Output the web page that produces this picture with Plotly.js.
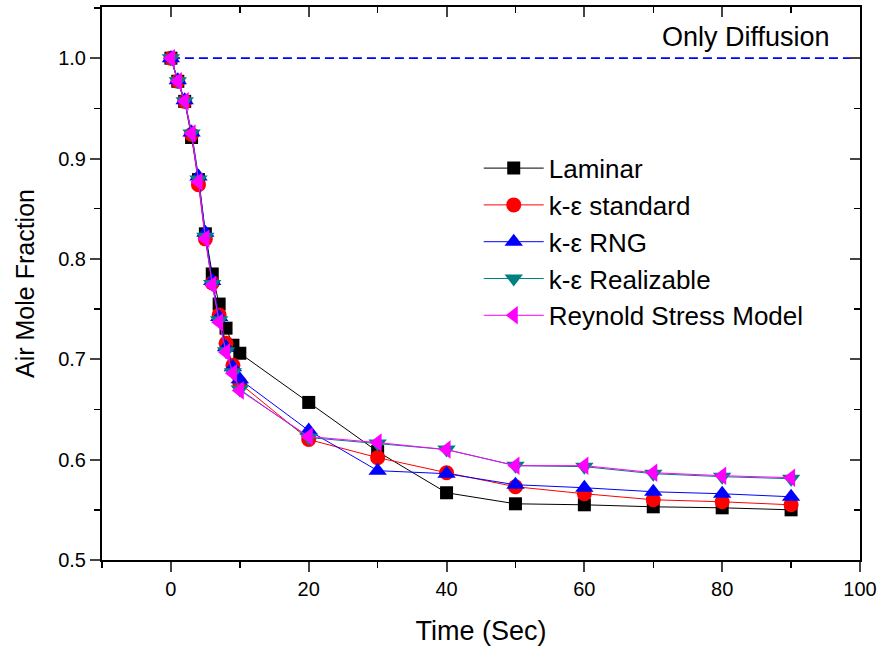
<!DOCTYPE html>
<html>
<head>
<meta charset="utf-8">
<script src="https://cdn.plot.ly/plotly-3.0.1.min.js"></script>
<style>html,body{margin:0;padding:0;background:#fff;}#chart{width:881px;height:651px;}</style>
</head>
<body>
<div id="chart"></div>
<script>
const time = [0,1,2,3,4,5,6,7,8,9,10,20,30,40,50,60,70,80,90];
const laminar = [1.0,0.977,0.957,0.921,0.879,0.825,0.785,0.755,0.731,0.714,0.706,0.657,0.608,0.567,0.556,0.555,0.553,0.552,0.550];
const kEpsStandard = [1.0,0.977,0.957,0.924,0.874,0.820,0.776,0.744,0.716,0.694,0.676,0.620,0.602,0.587,0.573,0.566,0.560,0.558,0.555];
const kEpsRNG = [1.0,0.978,0.958,0.926,0.882,0.826,0.778,0.742,0.712,0.692,0.680,0.629,0.589,0.586,0.575,0.572,0.568,0.566,0.563];
const kEpsRealizable = [1.0,0.977,0.957,0.925,0.879,0.822,0.775,0.739,0.708,0.687,0.670,0.622,0.616,0.610,0.594,0.593,0.586,0.583,0.581];
const reynoldStress = [1.0,0.977,0.957,0.925,0.877,0.820,0.774,0.737,0.707,0.686,0.669,0.623,0.617,0.610,0.594,0.594,0.587,0.584,0.582];
const diffusionX = [0, 100];
const diffusionY = [1.0, 1.0];
const seriesNames = ['Laminar','k-\u03b5 standard','k-\u03b5 RNG','k-\u03b5 Realizable','Reynold Stress Model'];

const FONT = 'Liberation Sans, Arial, sans-serif';
function tr(y, name, color, symbol, size, g) {
  return {x: time, y: y, name: name, type: 'scatter', mode: 'lines+markers',
    legendgroup: g,
    line: {color: color, width: 1},
    marker: {color: color, symbol: symbol, size: size, line: {width: 0}}};
}
const data = [
  {x: diffusionX, y: diffusionY, type: 'scatter', mode: 'lines', showlegend: false,
   line: {color: '#0000ff', width: 1.8, dash: '9px,5px'}, hoverinfo: 'skip'},
  tr(laminar, seriesNames[0], '#000000', 'square', 13, 'a'),
  tr(kEpsStandard, seriesNames[1], '#ff0000', 'circle', 15, 'b'),
  tr(kEpsRNG, seriesNames[2], '#0000ff', 'triangle-up', 16, 'c'),
  tr(kEpsRealizable, seriesNames[3], '#008080', 'triangle-down', 16, 'd'),
  tr(reynoldStress, seriesNames[4], '#ff00ff', 'triangle-left', 16, 'e')
];
const axCommon = {showgrid: false, zeroline: false, showline: true, linecolor: '#000', linewidth: 2};
const layout = {
  width: 881, height: 651,
  margin: {l: 102, r: 21, t: 7, b: 91},
  paper_bgcolor: '#fff', plot_bgcolor: '#fff',
  font: {family: FONT, color: '#000'},
  showlegend: true,
  legend: {x: 0.497, y: 0.751, xanchor: 'left', yanchor: 'top', bgcolor: 'rgba(0,0,0,0)',
    font: {family: FONT, size: 26, color: '#000'}, traceorder: 'grouped', tracegroupgap: 0, itemwidth: 60},
  xaxis: Object.assign({}, axCommon, {range: [-10, 100], tickvals: [0,20,40,60,80,100], ticks: 'outside', ticklen: 10, tickwidth: 2,
    tickfont: {size: 20, family: FONT}, minor: {dtick: 10, tick0: 0, ticks: 'outside', ticklen: 6, tickwidth: 1.5, tickcolor: '#000'},
    title: {text: 'Time (Sec)', font: {size: 27, family: FONT}, standoff: 22}}),
  yaxis: Object.assign({}, axCommon, {range: [0.5, 1.051], tickvals: [0.5,0.6,0.7,0.8,0.9,1.0], ticktext: ['0.5','0.6','0.7','0.8','0.9','1.0'],
    ticks: 'outside', ticklen: 10, tickwidth: 2, tickfont: {size: 20, family: FONT},
    minor: {dtick: 0.05, tick0: 0.5, ticks: 'outside', ticklen: 6, tickwidth: 1.5, tickcolor: '#000'},
    title: {text: 'Air Mole Fraction', font: {size: 25, family: FONT}, standoff: 16}}),
  xaxis2: Object.assign({}, axCommon, {overlaying: 'x', side: 'top', matches: 'x', range: [-10, 100], tickvals: [0,20,40,60,80,100],
    ticks: 'inside', ticklen: 10, tickwidth: 2, showticklabels: false,
    minor: {dtick: 10, tick0: 0, ticks: 'inside', ticklen: 6, tickwidth: 1.5, tickcolor: '#000'}}),
  yaxis2: Object.assign({}, axCommon, {overlaying: 'y', side: 'right', matches: 'y', range: [0.5, 1.051], tickvals: [0.5,0.6,0.7,0.8,0.9,1.0],
    ticks: 'inside', ticklen: 10, tickwidth: 2, showticklabels: false,
    minor: {dtick: 0.05, tick0: 0.5, ticks: 'inside', ticklen: 6, tickwidth: 1.5, tickcolor: '#000'}}),
  annotations: [{x: 83.5, y: 1.021, xref: 'x', yref: 'y', text: 'Only Diffusion', showarrow: false,
    font: {size: 27, family: FONT, color: '#000'}}]
};
// invisible helper trace to anchor the mirrored frame axes
data.push({x: diffusionX, y: diffusionY, xaxis: 'x2', yaxis: 'y2', mode: 'markers', showlegend: false,
  marker: {opacity: 0}, hoverinfo: 'skip'});
Plotly.newPlot('chart', data, layout, {displayModeBar: false, staticPlot: true});
</script>
</body>
</html>
